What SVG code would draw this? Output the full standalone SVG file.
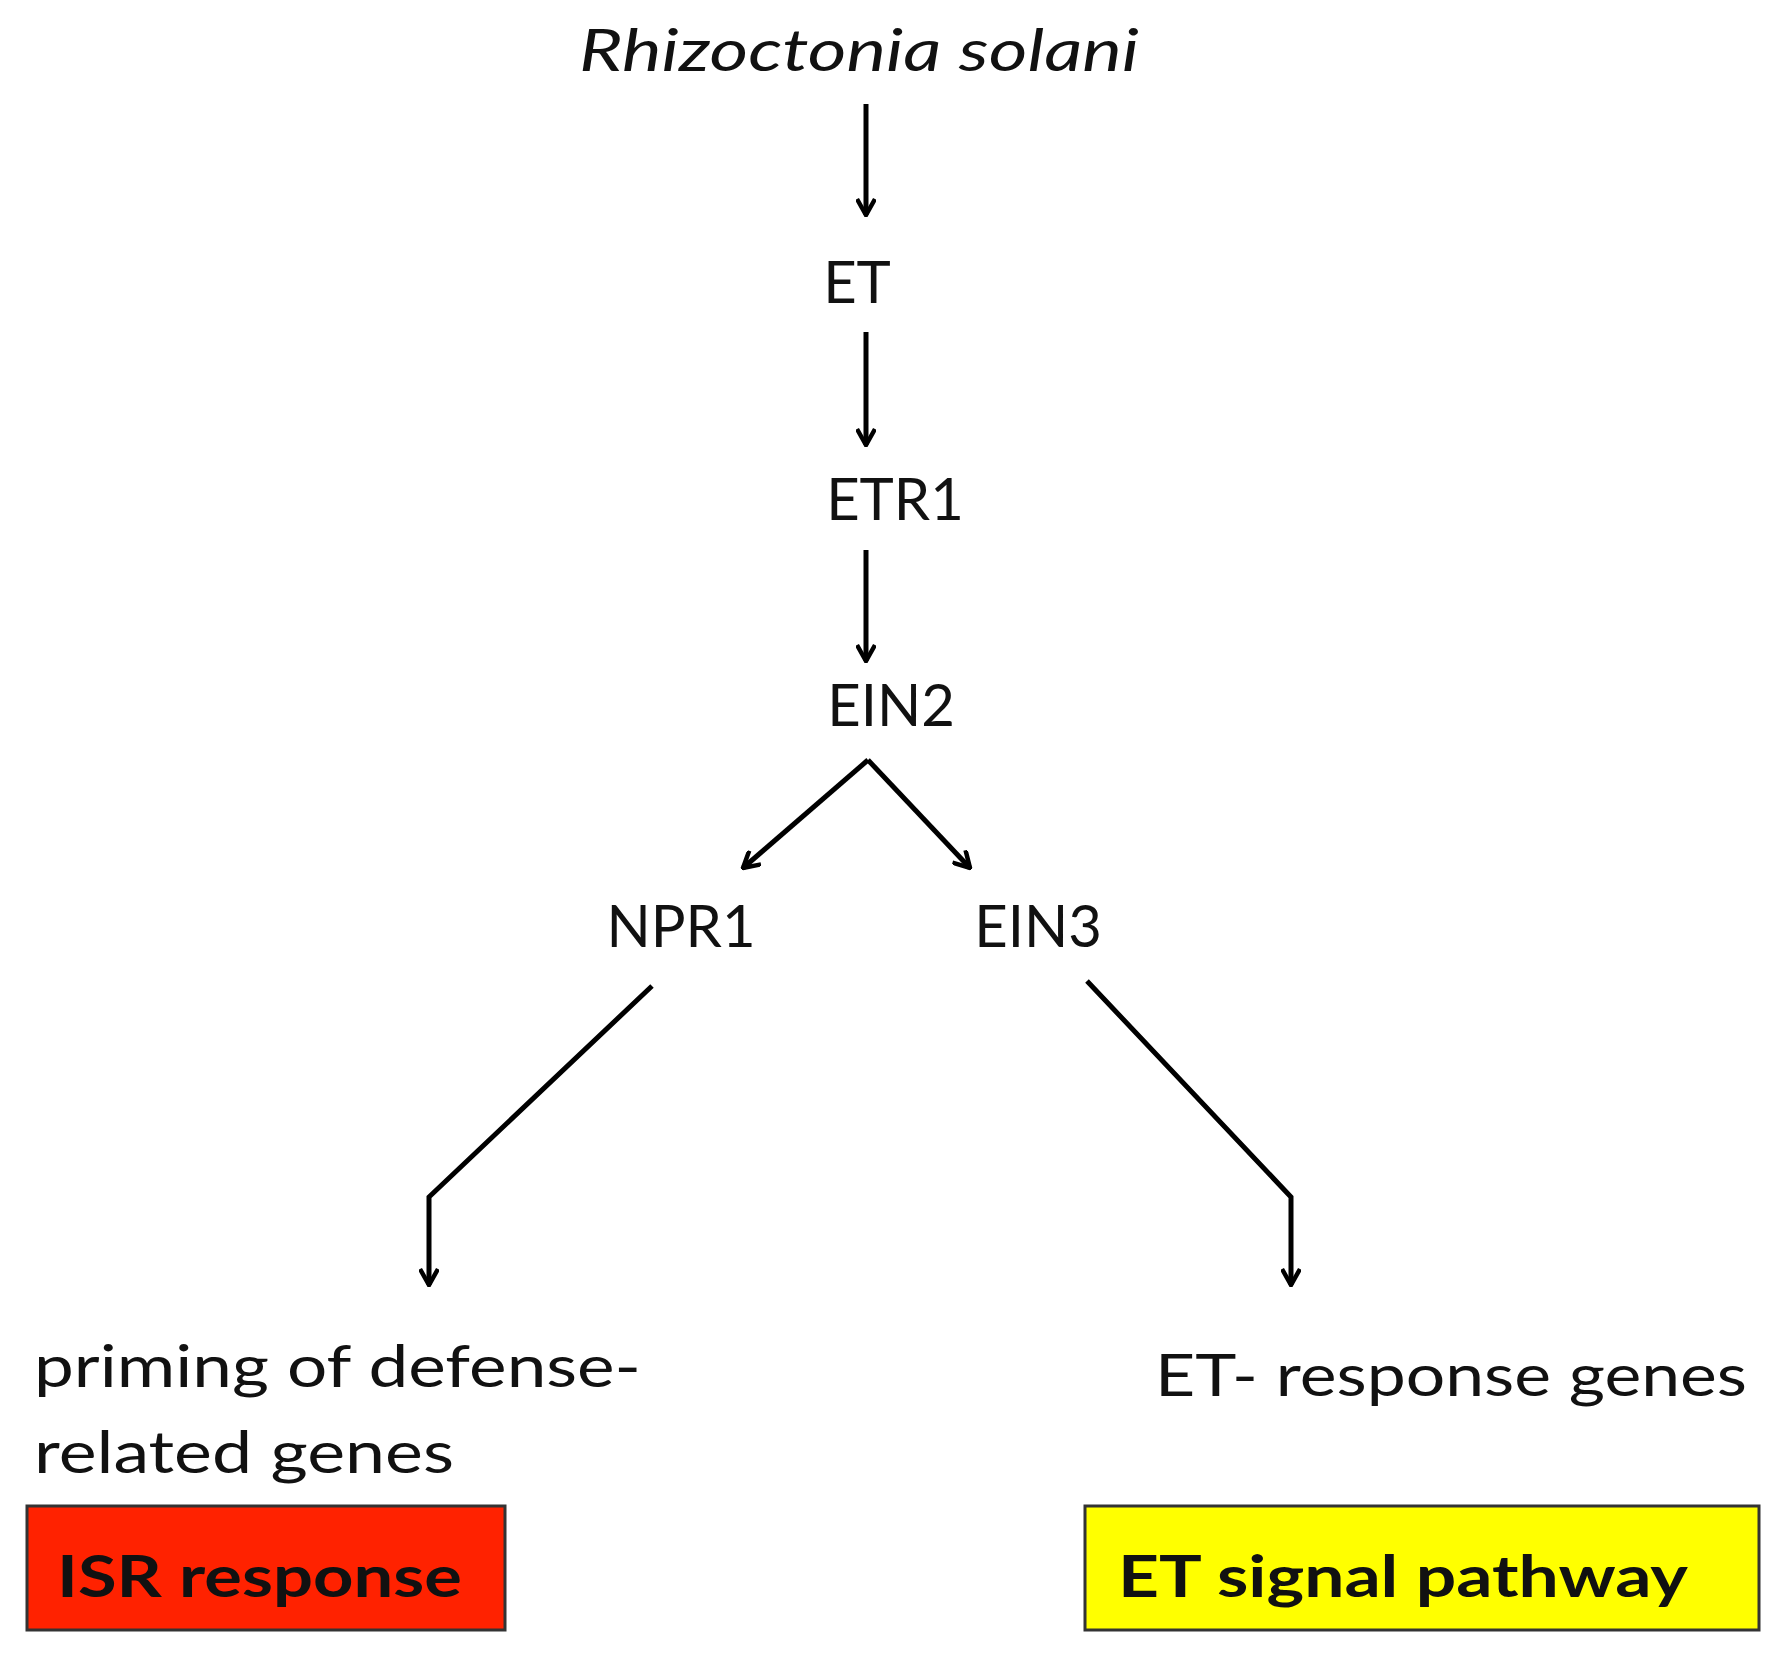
<svg xmlns="http://www.w3.org/2000/svg" width="1779" height="1655" viewBox="0 0 1779 1655">
<defs>
<marker id="ah" viewBox="0 0 20 20" refX="18" refY="10" markerWidth="20" markerHeight="20" markerUnits="userSpaceOnUse" orient="auto">
<path d="M2,1 L18,10 L2,19" fill="none" stroke="#000" stroke-width="4.5" stroke-linejoin="miter"/>
</marker>
<style>
text{font-family:Lato,"Open Sans","Liberation Sans",sans-serif;fill:#111;font-size:58px}
.b{font-weight:bold}
.c{stroke:#000;stroke-width:5;fill:none;marker-end:url(#ah)}
</style>
</defs>
<rect width="1779" height="1655" fill="#fff"/>
<g id="n-rs"><text x="859" y="71" text-anchor="middle" font-style="italic" textLength="560" lengthAdjust="spacingAndGlyphs">Rhizoctonia solani</text></g>
<g id="n-et"><text x="857" y="303" text-anchor="middle">ET</text></g>
<g id="n-etr1"><text x="895" y="520" text-anchor="middle">ETR1</text></g>
<g id="n-ein2"><text x="891" y="726" text-anchor="middle">EIN2</text></g>
<g id="n-npr1"><text x="681" y="947" text-anchor="middle">NPR1</text></g>
<g id="n-ein3"><text x="1038" y="947" text-anchor="middle">EIN3</text></g>
<g id="n-prim"><text x="34" y="1387" textLength="607" lengthAdjust="spacingAndGlyphs">priming of defense-</text><text x="34" y="1473" textLength="420" lengthAdjust="spacingAndGlyphs">related genes</text></g>
<g id="n-etresp"><text x="1155" y="1396" textLength="592" lengthAdjust="spacingAndGlyphs">ET- response genes</text></g>
<g id="n-isr"><rect x="27" y="1506" width="478" height="124" fill="#ff2200" stroke="#333" stroke-width="3"/><text class="b" x="57" y="1597" textLength="405" lengthAdjust="spacingAndGlyphs">ISR response</text></g>
<g id="n-etsp"><rect x="1085" y="1506" width="674" height="124" fill="#ffff00" stroke="#333" stroke-width="3"/><text class="b" x="1118" y="1597" textLength="570" lengthAdjust="spacingAndGlyphs">ET signal pathway</text></g>
<g id="connectors">
<path class="c" d="M866,104 V215"/>
<path class="c" d="M866,332 V445"/>
<path class="c" d="M866,550 V661"/>
<path class="c" d="M868,760 L743,868"/>
<path class="c" d="M868,760 L970,868"/>
<path class="c" d="M652,986 L429,1197 V1285"/>
<path class="c" d="M1087,981 L1291,1197 V1285"/>
</g>
</svg>
